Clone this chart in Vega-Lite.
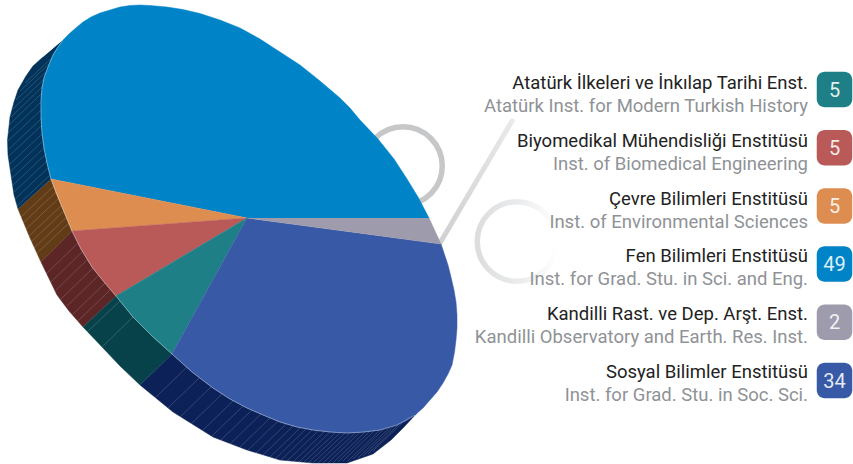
{"$schema":"https://vega.github.io/schema/vega-lite/v6.json","width":853,"height":464,"padding":0,"autosize":{"type":"none"},"background":"white","view":{"stroke":null},
"datasets":{
"legend":[{"tr":"Atatürk İlkeleri ve İnkılap Tarihi Enst.","en":"Atatürk Inst. for Modern Turkish History","n":5},{"tr":"Biyomedikal Mühendisliği Enstitüsü","en":"Inst. of Biomedical Engineering","n":5},{"tr":"Çevre Bilimleri Enstitüsü","en":"Inst. of Environmental Sciences","n":5},{"tr":"Fen Bilimleri Enstitüsü","en":"Inst. for Grad. Stu. in Sci. and Eng.","n":49},{"tr":"Kandilli Rast. ve Dep. Arşt. Enst.","en":"Kandilli Observatory and Earth. Res. Inst.","n":2},{"tr":"Sosyal Bilimler Enstitüsü","en":"Inst. for Grad. Stu. in Soc. Sci.","n":34}],
"top":[
{"s":"Fen","i":0,"x":247,"y":218},{"s":"Fen","i":1,"x":429,"y":218},{"s":"Fen","i":2,"x":418,"y":197},{"s":"Fen","i":3,"x":407,"y":179},{"s":"Fen","i":4,"x":394,"y":159},{"s":"Fen","i":5,"x":378,"y":139},{"s":"Fen","i":6,"x":360,"y":120},{"s":"Fen","i":7,"x":350,"y":108},{"s":"Fen","i":8,"x":340,"y":98},{"s":"Fen","i":9,"x":320,"y":81},{"s":"Fen","i":10,"x":300,"y":65},{"s":"Fen","i":11,"x":280,"y":52},{"s":"Fen","i":12,"x":260,"y":39},{"s":"Fen","i":13,"x":240,"y":28},{"s":"Fen","i":14,"x":220,"y":20},{"s":"Fen","i":15,"x":200,"y":13.5},{"s":"Fen","i":16,"x":183,"y":9.5},{"s":"Fen","i":17,"x":167,"y":7},{"s":"Fen","i":18,"x":150,"y":5.5},{"s":"Fen","i":19,"x":140,"y":5},{"s":"Fen","i":20,"x":130,"y":5.5},{"s":"Fen","i":21,"x":120,"y":7},{"s":"Fen","i":22,"x":110,"y":10},{"s":"Fen","i":23,"x":100,"y":13},{"s":"Fen","i":24,"x":91,"y":17},{"s":"Fen","i":25,"x":83,"y":22},{"s":"Fen","i":26,"x":77,"y":27},{"s":"Fen","i":27,"x":70,"y":33},{"s":"Fen","i":28,"x":63,"y":40},{"s":"Fen","i":29,"x":58,"y":47},{"s":"Fen","i":30,"x":53,"y":55},{"s":"Fen","i":31,"x":48,"y":67},{"s":"Fen","i":32,"x":44,"y":78},{"s":"Fen","i":33,"x":42,"y":88},{"s":"Fen","i":34,"x":41,"y":100},{"s":"Fen","i":35,"x":41,"y":117},{"s":"Fen","i":36,"x":42,"y":133},{"s":"Fen","i":37,"x":44,"y":148},{"s":"Fen","i":38,"x":47,"y":163},{"s":"Fen","i":39,"x":51,"y":179},
{"s":"Cevre","i":0,"x":247,"y":218},{"s":"Cevre","i":1,"x":51,"y":179},{"s":"Cevre","i":2,"x":56,"y":193},{"s":"Cevre","i":3,"x":62,"y":207},{"s":"Cevre","i":4,"x":72,"y":231},
{"s":"Biyo","i":0,"x":247,"y":218},{"s":"Biyo","i":1,"x":72,"y":231},{"s":"Biyo","i":2,"x":81,"y":249},{"s":"Biyo","i":3,"x":92,"y":267},{"s":"Biyo","i":4,"x":104,"y":282},{"s":"Biyo","i":5,"x":116,"y":296},
{"s":"Ata","i":0,"x":247,"y":218},{"s":"Ata","i":1,"x":116,"y":296},{"s":"Ata","i":2,"x":133,"y":317},{"s":"Ata","i":3,"x":152,"y":336},{"s":"Ata","i":4,"x":172,"y":354},
{"s":"Sos","i":0,"x":247,"y":218},{"s":"Sos","i":1,"x":172,"y":354},{"s":"Sos","i":2,"x":192,"y":372},{"s":"Sos","i":3,"x":213,"y":388},{"s":"Sos","i":4,"x":230,"y":399},{"s":"Sos","i":5,"x":247,"y":408},{"s":"Sos","i":6,"x":263,"y":415},{"s":"Sos","i":7,"x":280,"y":422},{"s":"Sos","i":8,"x":297,"y":427},{"s":"Sos","i":9,"x":313,"y":430},{"s":"Sos","i":10,"x":330,"y":432},{"s":"Sos","i":11,"x":347,"y":433},{"s":"Sos","i":12,"x":364,"y":432},{"s":"Sos","i":13,"x":380,"y":430},{"s":"Sos","i":14,"x":397,"y":425},{"s":"Sos","i":15,"x":406,"y":421},{"s":"Sos","i":16,"x":415,"y":415},{"s":"Sos","i":17,"x":423,"y":408},{"s":"Sos","i":18,"x":430,"y":400},{"s":"Sos","i":19,"x":437,"y":392},{"s":"Sos","i":20,"x":443,"y":383},{"s":"Sos","i":21,"x":448,"y":374},{"s":"Sos","i":22,"x":452,"y":365},{"s":"Sos","i":23,"x":454.5,"y":352},{"s":"Sos","i":24,"x":456,"y":340},{"s":"Sos","i":25,"x":457,"y":328},{"s":"Sos","i":26,"x":457,"y":315},{"s":"Sos","i":27,"x":456,"y":302},{"s":"Sos","i":28,"x":454,"y":290},{"s":"Sos","i":29,"x":451,"y":277},{"s":"Sos","i":30,"x":448,"y":265},{"s":"Sos","i":31,"x":441,"y":244},
{"s":"Kan","i":0,"x":247,"y":218},{"s":"Kan","i":1,"x":441,"y":244},{"s":"Kan","i":2,"x":429,"y":218}],
"side":[
{"s":"Fen","i":0,"x":63,"y":40},{"s":"Fen","i":1,"x":58,"y":47},{"s":"Fen","i":2,"x":53,"y":55},{"s":"Fen","i":3,"x":48,"y":67},{"s":"Fen","i":4,"x":44,"y":78},{"s":"Fen","i":5,"x":42,"y":88},{"s":"Fen","i":6,"x":41,"y":100},{"s":"Fen","i":7,"x":41,"y":117},{"s":"Fen","i":8,"x":42,"y":133},{"s":"Fen","i":9,"x":44,"y":148},{"s":"Fen","i":10,"x":47,"y":163},{"s":"Fen","i":11,"x":51,"y":179},{"s":"Fen","i":12,"x":18,"y":209},{"s":"Fen","i":13,"x":14,"y":195},{"s":"Fen","i":14,"x":11,"y":175},{"s":"Fen","i":15,"x":8,"y":155},{"s":"Fen","i":16,"x":7.5,"y":140},{"s":"Fen","i":17,"x":10,"y":117},{"s":"Fen","i":18,"x":14,"y":102},{"s":"Fen","i":19,"x":18,"y":90},{"s":"Fen","i":20,"x":26,"y":76},{"s":"Fen","i":21,"x":33,"y":66},{"s":"Fen","i":22,"x":43,"y":57},
{"s":"Cevre","i":0,"x":51,"y":179},{"s":"Cevre","i":1,"x":62,"y":207},{"s":"Cevre","i":2,"x":72,"y":231},{"s":"Cevre","i":3,"x":41,"y":262},{"s":"Cevre","i":4,"x":30,"y":238},{"s":"Cevre","i":5,"x":18,"y":209},
{"s":"Biyo","i":0,"x":72,"y":231},{"s":"Biyo","i":1,"x":81,"y":249},{"s":"Biyo","i":2,"x":92,"y":267},{"s":"Biyo","i":3,"x":116,"y":296},{"s":"Biyo","i":4,"x":83,"y":327},{"s":"Biyo","i":5,"x":69,"y":311},{"s":"Biyo","i":6,"x":57,"y":295},{"s":"Biyo","i":7,"x":41,"y":262},
{"s":"Ata","i":0,"x":116,"y":296},{"s":"Ata","i":1,"x":133,"y":317},{"s":"Ata","i":2,"x":152,"y":336},{"s":"Ata","i":3,"x":172,"y":354},{"s":"Ata","i":4,"x":140,"y":385},{"s":"Ata","i":5,"x":120,"y":366},{"s":"Ata","i":6,"x":103,"y":348},{"s":"Ata","i":7,"x":83,"y":327},
{"s":"Sos","i":0,"x":172,"y":354},{"s":"Sos","i":1,"x":192,"y":372},{"s":"Sos","i":2,"x":213,"y":388},{"s":"Sos","i":3,"x":230,"y":399},{"s":"Sos","i":4,"x":247,"y":408},{"s":"Sos","i":5,"x":263,"y":415},{"s":"Sos","i":6,"x":280,"y":422},{"s":"Sos","i":7,"x":297,"y":427},{"s":"Sos","i":8,"x":313,"y":430},{"s":"Sos","i":9,"x":330,"y":432},{"s":"Sos","i":10,"x":347,"y":433},{"s":"Sos","i":11,"x":364,"y":432},{"s":"Sos","i":12,"x":380,"y":430},{"s":"Sos","i":13,"x":400,"y":423},{"s":"Sos","i":14,"x":417,"y":413},{"s":"Sos","i":15,"x":404,"y":427},{"s":"Sos","i":16,"x":391,"y":440},{"s":"Sos","i":17,"x":373,"y":454},{"s":"Sos","i":18,"x":347,"y":463},{"s":"Sos","i":19,"x":313,"y":463},{"s":"Sos","i":20,"x":280,"y":460},{"s":"Sos","i":21,"x":247,"y":450},{"s":"Sos","i":22,"x":213,"y":437},{"s":"Sos","i":23,"x":173,"y":412},{"s":"Sos","i":24,"x":140,"y":385}],
"hatch":[
{"x":50,"y":175,"x2":17,"y2":206},{"x":48,"y":168,"x2":15,"y2":199},{"x":47,"y":161,"x2":14,"y2":192},{"x":46,"y":154,"x2":13,"y2":185},{"x":45,"y":147,"x2":12,"y2":178},{"x":44,"y":140,"x2":11,"y2":171},{"x":43,"y":133,"x2":10,"y2":164},{"x":42,"y":125,"x2":9,"y2":156},{"x":42,"y":118,"x2":9,"y2":149},{"x":41,"y":110,"x2":8,"y2":141},{"x":41,"y":102,"x2":8,"y2":133},{"x":41,"y":94,"x2":9,"y2":125},{"x":43,"y":86,"x2":11,"y2":117},{"x":45,"y":78,"x2":13,"y2":109},{"x":48,"y":70,"x2":16,"y2":100},{"x":51,"y":62,"x2":20,"y2":91},{"x":55,"y":55,"x2":25,"y2":83},
{"x":54,"y":186,"x2":21,"y2":217},{"x":56,"y":192,"x2":23,"y2":223},{"x":59,"y":198,"x2":26,"y2":229},{"x":62,"y":205,"x2":29,"y2":236},{"x":64,"y":211,"x2":31,"y2":242},{"x":67,"y":217,"x2":34,"y2":248},{"x":69,"y":223,"x2":36,"y2":254},
{"x":78,"y":243,"x2":46,"y2":274},{"x":83,"y":251,"x2":51,"y2":282},{"x":88,"y":259,"x2":56,"y2":290},{"x":93,"y":268,"x2":61,"y2":299},{"x":99,"y":275,"x2":67,"y2":306},{"x":105,"y":283,"x2":73,"y2":314},{"x":110,"y":290,"x2":78,"y2":321},
{"x":120,"y":301,"x2":87,"y2":332},{"x":133,"y":317,"x2":102,"y2":347},
{"x":187,"y":367,"x2":155,"y2":398},{"x":199,"y":378,"x2":167,"y2":409},{"x":211,"y":387,"x2":179,"y2":418},{"x":222,"y":394,"x2":190,"y2":425},{"x":233,"y":401,"x2":201,"y2":432},{"x":243,"y":406,"x2":211,"y2":437},{"x":252,"y":410,"x2":220,"y2":441},{"x":261,"y":414,"x2":229,"y2":445},{"x":270,"y":418,"x2":238,"y2":449},{"x":278,"y":421,"x2":246,"y2":452},{"x":286,"y":424,"x2":254,"y2":455},{"x":293,"y":426,"x2":261,"y2":457},{"x":300,"y":428,"x2":268,"y2":459},{"x":306,"y":429,"x2":274,"y2":460},{"x":312,"y":430,"x2":280,"y2":461},{"x":318,"y":431,"x2":286,"y2":462},{"x":324,"y":432,"x2":292,"y2":463},{"x":330,"y":432,"x2":298,"y2":463},{"x":335,"y":433,"x2":303,"y2":463},{"x":340,"y":433,"x2":308,"y2":463},{"x":345,"y":433,"x2":313,"y2":463},{"x":350,"y":433,"x2":318,"y2":463},{"x":355,"y":433,"x2":323,"y2":463},{"x":360,"y":432,"x2":328,"y2":463},{"x":365,"y":432,"x2":333,"y2":463},{"x":370,"y":431,"x2":338,"y2":462},{"x":375,"y":430,"x2":343,"y2":461},{"x":380,"y":430,"x2":348,"y2":461},{"x":385,"y":428,"x2":353,"y2":459},{"x":390,"y":427,"x2":358,"y2":458},{"x":395,"y":425,"x2":363,"y2":456},{"x":400,"y":423,"x2":368,"y2":454},{"x":405,"y":420,"x2":373,"y2":451}],
"rim":[{"i":0,"x":63,"y":40},{"i":1,"x":58,"y":47},{"i":2,"x":53,"y":55},{"i":3,"x":48,"y":67},{"i":4,"x":44,"y":78},{"i":5,"x":42,"y":88},{"i":6,"x":41,"y":100},{"i":7,"x":41,"y":117},{"i":8,"x":42,"y":133},{"i":9,"x":44,"y":148},{"i":10,"x":47,"y":163},{"i":11,"x":51,"y":179},{"i":12,"x":62,"y":207},{"i":13,"x":72,"y":231},{"i":14,"x":81,"y":249},{"i":15,"x":92,"y":267},{"i":16,"x":104,"y":282},{"i":17,"x":116,"y":296},{"i":18,"x":133,"y":317},{"i":19,"x":152,"y":336},{"i":20,"x":172,"y":354},{"i":21,"x":192,"y":372},{"i":22,"x":213,"y":388},{"i":23,"x":230,"y":399},{"i":24,"x":247,"y":408},{"i":25,"x":263,"y":415},{"i":26,"x":280,"y":422},{"i":27,"x":297,"y":427},{"i":28,"x":313,"y":430},{"i":29,"x":330,"y":432},{"i":30,"x":347,"y":433},{"i":31,"x":364,"y":432},{"i":32,"x":380,"y":430},{"i":33,"x":397,"y":425},{"i":34,"x":415,"y":415}],
"rings":[{"x":403,"y":166}],"rings2":[{"x":517,"y":241.5}],"slash":[{"x":440,"y":243,"x2":512,"y2":121}]
},
"resolve":{"scale":{"y":"independent","fill":"independent","stroke":"independent"}},
"layer":[
{"data":{"name":"rings"},"mark":{"type":"point","shape":"circle","filled":false,"size":6162,"strokeWidth":5.5,"stroke":"#c6c7c9","opacity":1},
"encoding":{"x":{"field":"x","type":"quantitative","scale":{"domain":[0,853],"nice":false,"zero":false},"axis":null},"y":{"field":"y","type":"quantitative","scale":{"domain":[464,0],"nice":false,"zero":false},"axis":null}}},
{"data":{"name":"rings2"},"mark":{"type":"point","shape":"circle","filled":false,"size":6320,"strokeWidth":5.5,"opacity":1,"stroke":{"gradient":"linear","x1":0,"y1":0,"x2":1,"y2":0,"stops":[{"offset":0,"color":"#dcdddf"},{"offset":0.55,"color":"#ebeced"},{"offset":1,"color":"#ffffff"}]}},
"encoding":{"x":{"field":"x","type":"quantitative","axis":null},"y":{"field":"y","type":"quantitative","scale":{"domain":[464,0],"nice":false,"zero":false},"axis":null}}},
{"data":{"name":"slash"},"mark":{"type":"rule","strokeWidth":5,"strokeCap":"round","stroke":{"gradient":"linear","x1":0,"y1":1,"x2":1,"y2":0,"stops":[{"offset":0,"color":"#cfd0d2"},{"offset":1,"color":"#e9e9ea"}]}},
"encoding":{"x":{"field":"x","type":"quantitative","axis":null},"y":{"field":"y","type":"quantitative","scale":{"domain":[464,0],"nice":false,"zero":false},"axis":null},"x2":{"field":"x2"},"y2":{"field":"y2"}}},
{"data":{"name":"side"},"mark":{"type":"line","strokeWidth":0.5,"interpolate":"linear"},
"encoding":{"x":{"field":"x","type":"quantitative","axis":null},"y":{"field":"y","type":"quantitative","scale":{"domain":[464,0],"nice":false,"zero":false},"axis":null},"order":{"field":"i"},"detail":{"field":"s"},
"fill":{"field":"s","type":"nominal","legend":null,"scale":{"domain":["Fen","Cevre","Biyo","Ata","Sos"],"range":["#00325a","#623c17","#5c2526","#07424a","#0c2157"]}},
"stroke":{"field":"s","type":"nominal","legend":null,"scale":{"domain":["Fen","Cevre","Biyo","Ata","Sos"],"range":["#00325a","#623c17","#5c2526","#07424a","#0c2157"]}}}},
{"data":{"name":"hatch"},"mark":{"type":"rule","stroke":"#ffffff","strokeOpacity":0.28,"strokeWidth":0.6},
"encoding":{"x":{"field":"x","type":"quantitative","axis":null},"y":{"field":"y","type":"quantitative","scale":{"domain":[464,0],"nice":false,"zero":false},"axis":null},"x2":{"field":"x2"},"y2":{"field":"y2"}}},
{"data":{"name":"top"},"mark":{"type":"line","strokeWidth":0.5,"interpolate":"linear"},
"encoding":{"x":{"field":"x","type":"quantitative","axis":null},"y":{"field":"y","type":"quantitative","scale":{"domain":[464,0],"nice":false,"zero":false},"axis":null},"order":{"field":"i"},"detail":{"field":"s"},
"fill":{"field":"s","type":"nominal","legend":null,"scale":{"domain":["Fen","Cevre","Biyo","Ata","Sos","Kan"],"range":["#0084c7","#de8d50","#b95a59","#1f7f86","#385aa6","#9e9bad"]}},
"stroke":{"field":"s","type":"nominal","legend":null,"scale":{"domain":["Fen","Cevre","Biyo","Ata","Sos","Kan"],"range":["#0084c7","#de8d50","#b95a59","#1f7f86","#385aa6","#9e9bad"]}}}},
{"data":{"name":"rim"},"mark":{"type":"line","stroke":"#dbe6ee","strokeOpacity":0.6,"strokeWidth":0.7},
"encoding":{"x":{"field":"x","type":"quantitative","axis":null},"y":{"field":"y","type":"quantitative","scale":{"domain":[464,0],"nice":false,"zero":false},"axis":null},"order":{"field":"i"}}},
{"data":{"name":"legend"},"mark":{"type":"text","align":"right","baseline":"alphabetic","font":"Roboto","fontSize":18.5,"fill":"#222222"},
"encoding":{"x":{"datum":808},"y":{"field":"tr","type":"nominal","axis":null,"sort":null,"scale":{"type":"point","range":[89,378],"padding":0}},"text":{"field":"tr"}}},
{"data":{"name":"legend"},"mark":{"type":"text","align":"right","baseline":"alphabetic","font":"Roboto","fontSize":18.5,"fill":"#8f9296"},
"encoding":{"x":{"datum":808},"y":{"field":"en","type":"nominal","axis":null,"sort":null,"scale":{"type":"point","range":[112,401],"padding":0}},"text":{"field":"en"}}},
{"data":{"name":"legend"},"mark":{"type":"rect","width":35.5,"height":35.5,"cornerRadius":8},
"encoding":{"x":{"datum":834.5},"y":{"field":"tr","type":"nominal","axis":null,"sort":null,"scale":{"type":"point","range":[89.5,380.5],"padding":0}},
"fill":{"field":"tr","type":"nominal","legend":null,"sort":null,"scale":{"range":["#1f7f86","#b95a59","#de8d50","#0084c7","#9e9bad","#385aa6"]}}}},
{"data":{"name":"legend"},"mark":{"type":"text","align":"center","baseline":"alphabetic","font":"Roboto","fontSize":20,"fill":"#ffffff","fillOpacity":0.88},
"encoding":{"x":{"datum":834.5},"y":{"field":"tr","type":"nominal","axis":null,"sort":null,"scale":{"type":"point","range":[96.5,387.5],"padding":0}},"text":{"field":"n","type":"quantitative"}}}
]}
